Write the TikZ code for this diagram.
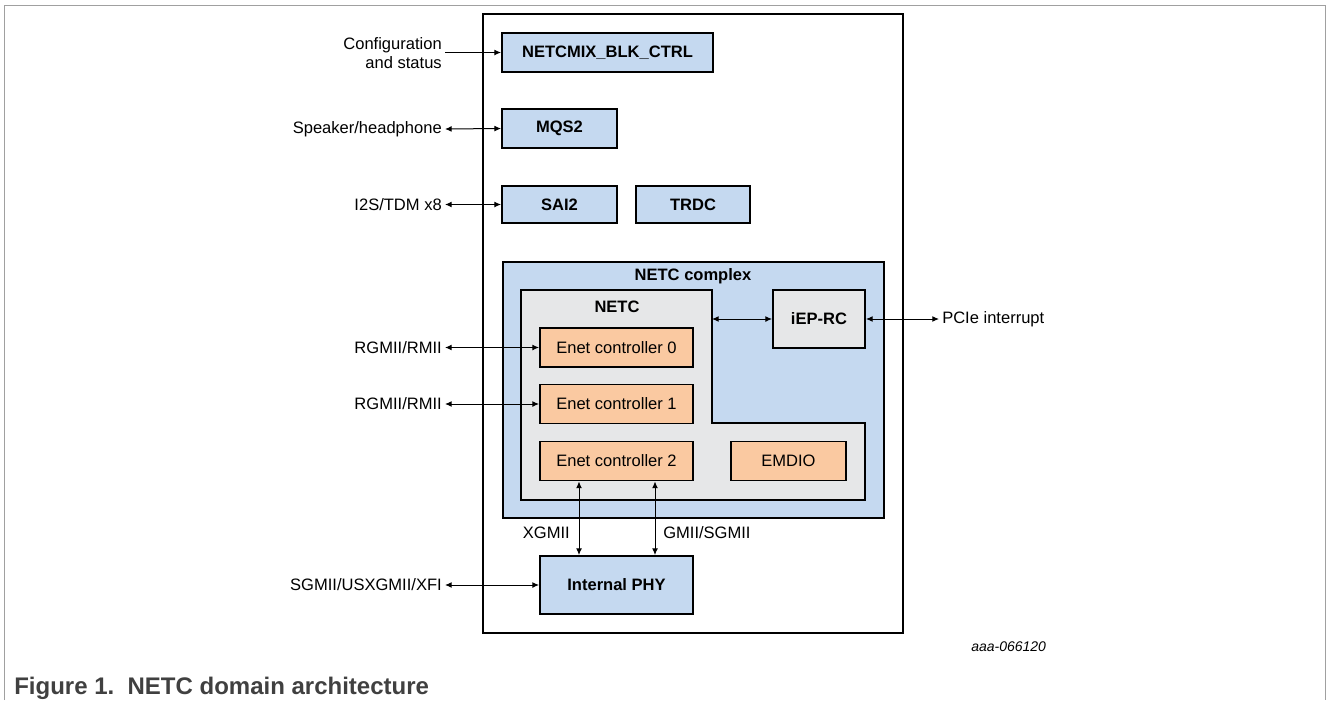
\documentclass[tikz,border=0pt]{standalone}
\usepackage{fontspec}
\setmainfont{Liberation Sans}
\usetikzlibrary{arrows.meta,calc}

\definecolor{blkblue}{RGB}{197,217,240}
\definecolor{netcgray}{RGB}{230,231,232}
\definecolor{enetorange}{RGB}{250,201,161}
\definecolor{framegray}{RGB}{160,160,160}
\definecolor{capgray}{RGB}{64,64,64}

\tikzset{
  blk/.style={draw, line width=1.4pt, fill=blkblue, inner sep=0pt,
    font=\fontsize{12.4}{14}\selectfont\bfseries},
  enet/.style={draw, line width=1.4pt, fill=enetorange, inner sep=0pt,
    minimum width=114.75pt, minimum height=29.25pt,
    font=\fontsize{12.4}{14}\selectfont},
  lbl/.style={inner sep=2.25pt, font=\fontsize{12.4}{14}\selectfont},
  sig/.style={line width=0.75pt,
    {Latex[length=5pt,width=4.4pt]}-{Latex[length=5pt,width=4.4pt]}},
  sigin/.style={line width=0.75pt, -{Latex[length=5pt,width=4.4pt]}},
}

\begin{document}
\begin{tikzpicture}[x=0.75pt, y=-0.75pt]
      \useasboundingbox (0,0) rectangle (1328,700);
      \def\lblx{445};
      \draw[framegray, line width=0.75pt] (4,700) -- (4,5) -- (1325,5) -- (1325,700);
      \draw[line width=1.4pt] (483,14) rectangle (903,633);
      \draw[line width=1.4pt, fill=blkblue] (503,262) rectangle (884,518);
      \draw[line width=1.4pt, fill=netcgray] (521,290) -- (712,290) -- (712,423)
            -- (865,423) -- (865,500) -- (521,500) -- cycle;
      \coordinate (netcedge) at (712,319);
      \node[font=\fontsize{12.4}{14}\selectfont\bfseries] (cplxlbl) at (693,276) {NETC complex};
      \node[font=\fontsize{12.4}{14}\selectfont\bfseries] (netclbl) at (617,307) {NETC};

      \node[blk, minimum width=158.25pt, minimum height=29.25pt] (ctrl) at (607.5,52.5) {NETCMIX\_BLK\_CTRL};
      \node[blk, minimum width=86.25pt, minimum height=29.25pt] (mqs) at (559.5,128.5) {MQS2};
      \node[blk, minimum width=86.25pt, minimum height=27.75pt] (sai) at (559.5,204.5) {SAI2};
      \node[blk, minimum width=85.5pt, minimum height=27.75pt] (trdc) at (693,204.5) {TRDC};
      \node[blk, fill=netcgray, minimum width=69pt, minimum height=43.5pt] (iep) at (819,319) {iEP-RC};
      \node[enet] (enet0) at (616.5,347.5) {Enet controller 0};
      \node[enet] (enet1) at (616.5,404) {Enet controller 1};
      \node[enet] (enet2) at (616.5,461) {Enet controller 2};
      \node[enet, minimum width=86.25pt] (emdio) at (788.5,461) {EMDIO};
      \node[blk, minimum width=114.75pt, minimum height=43.5pt] (phy) at (616.5,585) {Internal PHY};

      \node[lbl, anchor=east, align=right] (cfg) at (\lblx,53) {Configuration\\and status};
      \node[lbl, anchor=east] (spk) at (\lblx,129) {Speaker/headphone};
      \node[lbl, anchor=east] (i2s) at (\lblx,204.5) {I2S/TDM x8};
      \node[lbl, anchor=east] (rgmii0) at (\lblx,347.5) {RGMII/RMII};
      \node[lbl, anchor=east] (rgmii1) at (\lblx,404) {RGMII/RMII};
      \node[lbl, anchor=east] (serdes) at (\lblx,585) {SGMII/USXGMII/XFI};
      \node[lbl, anchor=west] (pcie) at (939,319) {PCIe interrupt};
      \node[lbl, anchor=east] (xgmii) at (573,533) {XGMII};
      \node[lbl, anchor=west] (gmii) at (660,533) {GMII/SGMII};

      \draw[sigin] (cfg.east |- ctrl.west) -- (ctrl.west);
      \draw[sig] (spk.east) -- (mqs.west);
      \draw[sig] (i2s.east) -- (sai.west);
      \draw[sig] (rgmii0.east) -- (enet0.west);
      \draw[sig] (rgmii1.east) -- (enet1.west);
      \draw[sig] (serdes.east) -- (phy.west);
      \draw[sig] (netcedge) -- (iep.west);
      \draw[sig] (iep.east) -- (pcie.west);
      \draw[sig] ($(enet2.south)+(-37.5,0)$) -- ($(phy.north)+(-37.5,0)$);
      \draw[sig] ($(enet2.south)+(38.5,0)$) -- ($(phy.north)+(38.5,0)$);

      \node[anchor=west, inner sep=0pt, font=\fontsize{10.5}{12}\selectfont\itshape] (figid) at (971,647) {aaa-066120};
      \node[anchor=west, inner sep=0pt, text=capgray, font=\fontsize{18}{20}\selectfont\bfseries] (caption) at (14,688) {Figure 1.\ \ NETC domain architecture};
    \end{tikzpicture}
\end{document}
